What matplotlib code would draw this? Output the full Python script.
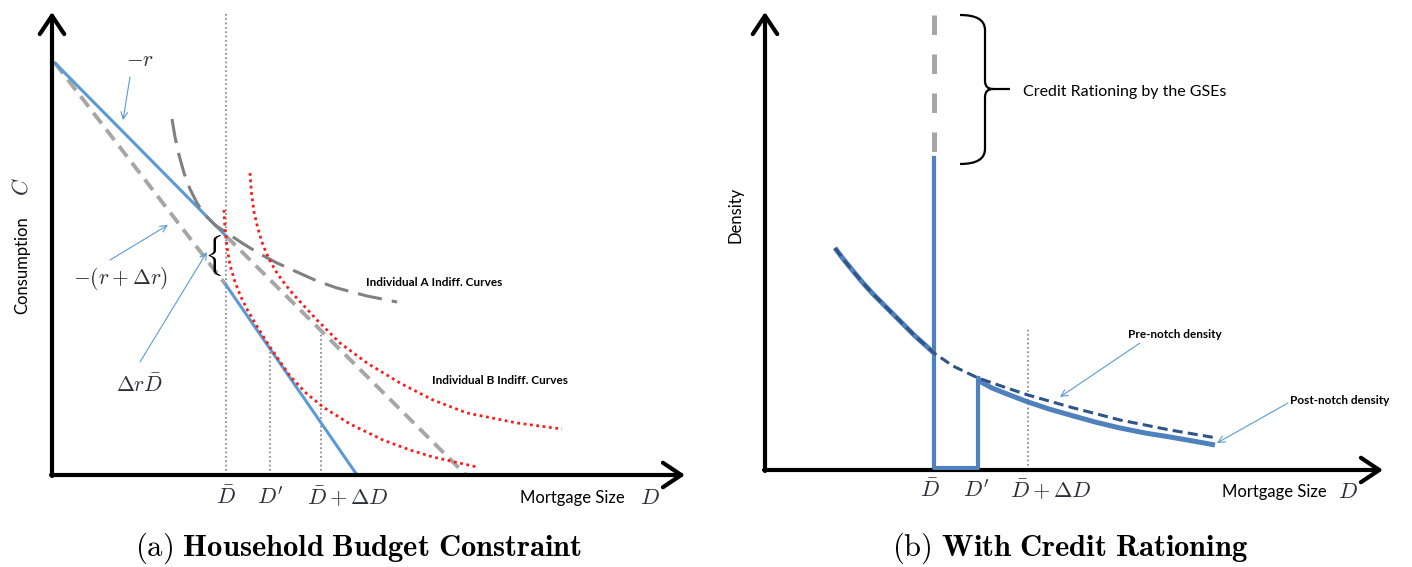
import numpy as np
import matplotlib.pyplot as plt
from matplotlib.path import Path
from matplotlib.patches import PathPatch

plt.rcParams['mathtext.fontset'] = 'cm'
plt.rcParams['font.family'] = ['Lato', 'DejaVu Sans']

# ---- panel (a): household budget constraint ----
d_bar = 17.4
d_prime = 21.8
d_bar_dd = 26.9
c_top = 41.2
kink_c = 23.9
notch_c = 19.0
budget_end = 30.5
old_end = 41.4
d_prime_top = 12.8
d_bar_dd_top = 14.7

# individual A indifference curve (long dash)
a_curve_x = [12.0, 12.3, 12.7, 13.2, 13.8, 14.5, 15.3, 16.3, 17.5, 19.0, 20.8, 22.5, 24.5, 26.5, 28.5, 31.5, 34.5]
a_curve_y = [35.6, 33.8, 32.0, 30.2, 28.6, 27.2, 26.0, 25.0, 24.2, 23.2, 22.1, 21.2, 20.3, 19.4, 18.7, 17.9, 17.3]

# individual B indifference curves (red dotted)
b1_x = [17.2, 17.3, 17.5, 17.8, 18.3, 18.9, 19.6, 20.6, 21.8, 23.8, 25.4, 27.1, 29.8, 33.1, 35.8, 38.1, 40.3, 42.5]
b1_y = [26.5, 24.6, 22.8, 21.0, 19.3, 17.8, 16.4, 14.7, 12.8, 9.9, 8.2, 6.8, 5.1, 3.5, 2.5, 1.8, 1.3, 0.8]
b2_x = [19.8, 19.95, 20.2, 20.6, 21.1, 21.7, 22.5, 23.3, 24.1, 26.5, 28.8, 31.5, 34.8, 38.1, 41.5, 46.5, 51.0]
b2_y = [30.2, 28.2, 26.3, 24.6, 23.0, 21.6, 20.2, 19.1, 18.1, 15.5, 13.2, 11.2, 9.2, 7.5, 6.2, 5.2, 4.6]

# ---- panel (b): density with credit rationing ----
db_bar = 16.9
db_prime = 21.3
db_bar_dd = 26.3
bunch_top = 31.2
ration_top = 45.5
db_dd_top = 14.3

pre_x = [7.0, 7.9, 8.8, 9.8, 10.8, 11.9, 13.0, 14.0, 15.0, 15.9, 16.9, 18.8, 21.3, 24.2, 26.3, 30.5, 35.5, 40.5, 45.2]
pre_y = [22.2, 21.0, 19.9, 18.7, 17.6, 16.5, 15.4, 14.4, 13.4, 12.6, 11.7, 10.4, 9.2, 8.2, 7.5, 6.3, 5.0, 4.0, 3.2]
post_x = [21.3, 21.6, 22.7, 24.2, 26.3, 28.4, 30.5, 33.0, 35.5, 38.0, 40.5, 42.8, 45.0]
post_y = [9.2, 8.8, 8.2, 7.6, 6.8, 6.1, 5.5, 4.8, 4.2, 3.7, 3.3, 2.9, 2.5]

W, H = 1412, 567
fig = plt.figure(figsize=(W / 100, H / 100), dpi=100)
axa = fig.add_axes([52 / W, (H - 475) / H, 638 / W, 467 / H])
axb = fig.add_axes([765 / W, (H - 470) / H, 623 / W, 462 / H])
axa.set_xlim(0, 63.8)
axa.set_ylim(0, 46.7)
axb.set_xlim(0, 62.3)
axb.set_ylim(0, 46.2)
for ax in (axa, axb):
    ax.axis('off')

blue_a = '#5B9BD5'
blue_b = '#4F81BD'
navy = '#2F5487'
grey = '#A6A6A6'
math_col = '#2E2E3A'


def axis_arrows(ax, xtip, ytip):
    kw = dict(arrowstyle='->,head_length=0.6,head_width=0.4', lw=3.0, color='black',
              shrinkA=0, shrinkB=0, mutation_scale=22)
    ax.annotate('', xy=(0, ytip), xytext=(0, -0.1), arrowprops=kw, annotation_clip=False)
    ax.annotate('', xy=(xtip, 0), xytext=(-0.1, 0), arrowprops=kw, annotation_clip=False)


def pointer(ax, start, end):
    ax.annotate('', xy=end, xytext=start,
                arrowprops=dict(arrowstyle='->', color=blue_a, lw=0.8, shrinkA=0, shrinkB=0,
                                mutation_scale=12))


# ---- draw panel a ----
axa.plot([d_bar, d_bar], [0, 46.3], color='#7F7F7F', lw=1.2, ls=(0, (1, 1.6)), clip_on=False)
axa.plot([d_prime, d_prime], [0, d_prime_top], color='#7F7F7F', lw=1.2, ls=(0, (1, 1.6)))
axa.plot([d_bar_dd, d_bar_dd], [0, d_bar_dd_top], color='#7F7F7F', lw=1.2, ls=(0, (1, 1.6)))

axa.plot([0.3, d_bar], [c_top, notch_c], color=grey, lw=2.8, dashes=(3.4, 2.0))
axa.plot([d_bar, old_end], [kink_c, 0], color=grey, lw=2.8, dashes=(3.4, 2.0))
axa.plot([0.3, d_bar], [c_top, kink_c], color=blue_a, lw=2.2)
axa.plot([d_bar, budget_end], [notch_c, 0], color=blue_a, lw=2.2)

axa.plot(a_curve_x, a_curve_y, color='#808080', lw=2.2, dashes=(8, 3.3))
axa.plot(b1_x, b1_y, color='#FF1A1A', lw=2.0, ls=(0, (1, 1.3)))
axa.plot(b2_x, b2_y, color='#FF1A1A', lw=2.0, ls=(0, (1, 1.3)))

axis_arrows(axa, 63.3, 46.3)

axa.text(8.8, 41.5, r'$-r$', fontsize=15.5, color=math_col, ha='center', va='center')
pointer(axa, (7.8, 39.8), (7.1, 35.5))
axa.text(6.8, 19.7, r'$-(r+\Delta r)$', fontsize=15.5, color=math_col, ha='center', va='center')
pointer(axa, (5.8, 21.5), (11.6, 25.0))
axa.text(8.8, 9.0, r'$\Delta r\bar{D}$', fontsize=15.5, color=math_col, ha='center', va='center')
pointer(axa, (8.8, 11.3), (15.5, 22.3))
axa.text(16.1, 22.0, r'$\{$', fontsize=24, color='black', ha='center', va='center')

axa.text(31.4, 19.3, 'Individual A Indiff. Curves', fontsize=8.5, fontweight='bold', va='center')
axa.text(38.0, 9.4, 'Individual B Indiff. Curves', fontsize=8.5, fontweight='bold', va='center')

for xv, lab in [(d_bar, r'$\bar{D}$'), (d_prime, r"$D'$"), (29.6, r'$\bar{D}+\Delta D$')]:
    axa.text(xv, -2.2, lab, fontsize=16, color=math_col, ha='center', va='center')
axa.text(46.8, -2.3, 'Mortgage Size', fontsize=12, va='center')
axa.text(59.8, -2.3, r'$D$', fontsize=16, color=math_col, ha='center', va='center')
axa.text(-3.0, 21.0, 'Consumption', fontsize=12, rotation=90, ha='center', va='center')
axa.text(-3.0, 28.8, r'$C$', fontsize=16, color=math_col, rotation=90, ha='center', va='center')

# ---- draw panel b ----
axb.plot([db_bar_dd, db_bar_dd], [0, db_dd_top], color='#7F7F7F', lw=1.2, ls=(0, (1, 1.6)))
i_bar = pre_x.index(db_bar)
axb.plot(pre_x[:i_bar + 1], pre_y[:i_bar + 1], color=blue_b, lw=3.6, solid_capstyle='butt')
axb.plot(post_x, post_y, color=blue_b, lw=3.6, solid_capstyle='butt')
axb.plot([db_bar, db_bar, db_prime, db_prime], [bunch_top, 0.2, 0.2, post_y[0]],
         color=blue_b, lw=3.0, zorder=4)
axb.plot([db_bar, db_bar], [ration_top, bunch_top], color=grey, lw=3.6, dashes=(3.9, 3.9))
axb.plot(pre_x, pre_y, color=navy, lw=2.2, dashes=(3.3, 1.7), zorder=5)

axis_arrows(axb, 61.8, 45.8)

# curly brace for the rationed mass
bx0, bxm, bxt = 19.5, 22.0, 24.5
bmid = 38.1
verts = [(bx0, ration_top), (bxm, ration_top), (bxm, ration_top - 1.5),
         (bxm, bmid + 0.8), (bxm, bmid), (bxm + 0.8, bmid), (bxt, bmid),
         (bxm + 0.8, bmid), (bxm, bmid), (bxm, bmid - 0.8),
         (bxm, bunch_top - 0.6 + 1.5), (bxm, bunch_top - 0.6), (bx0, bunch_top - 0.6)]
codes = [Path.MOVETO, Path.CURVE3, Path.CURVE3,
         Path.LINETO, Path.CURVE3, Path.CURVE3, Path.LINETO,
         Path.MOVETO, Path.CURVE3, Path.CURVE3,
         Path.LINETO, Path.CURVE3, Path.CURVE3]
axb.add_patch(PathPatch(Path(verts, codes), fill=False, lw=1.6, color='black'))
axb.text(25.8, 37.8, 'Credit Rationing by the GSEs', fontsize=11.5, va='center')

axb.text(36.3, 13.6, 'Pre-notch density', fontsize=8.5, fontweight='bold', va='center')
pointer(axb, (37.5, 12.7), (29.5, 7.3))
axb.text(52.5, 6.9, 'Post-notch density', fontsize=8.5, fontweight='bold', va='center',
         clip_on=False)
pointer(axb, (52.3, 6.7), (45.2, 2.7))

for xv, lab in [(db_bar - 0.4, r'$\bar{D}$'), (db_prime - 0.2, r"$D'$"), (28.6, r'$\bar{D}+\Delta D$')]:
    axb.text(xv, -2.0, lab, fontsize=16, color=math_col, ha='center', va='center')
axb.text(45.7, -2.2, 'Mortgage Size', fontsize=12, va='center')
axb.text(58.3, -2.2, r'$D$', fontsize=16, color=math_col, ha='center', va='center')
axb.text(-3.0, 25.5, 'Density', fontsize=12, rotation=90, ha='center', va='center')

# captions
fig.text(358 / W, 1 - 548 / H, r'$\mathrm{(a)}\ \mathbf{Household\ Budget\ Constraint}$',
         fontsize=22, ha='center', va='center')
fig.text(1070 / W, 1 - 548 / H, r'$\mathrm{(b)}\ \mathbf{With\ Credit\ Rationing}$',
         fontsize=22, ha='center', va='center')

fig.savefig('out.png', dpi=100)
